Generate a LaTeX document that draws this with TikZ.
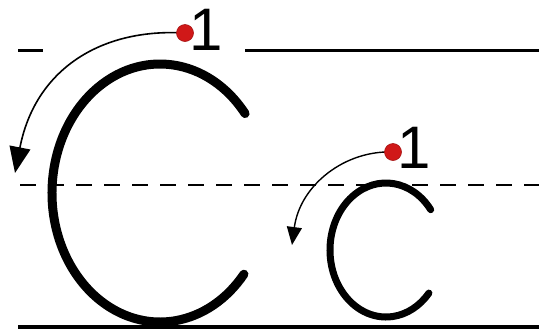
\documentclass[tikz,border=0pt]{standalone}
\usepackage{fontspec}
\setmainfont{Liberation Sans}
\usetikzlibrary{arrows.meta,calc}
\definecolor{dotred}{HTML}{D01818}
\tikzset{
  guide/.style={line width=#1, black},
  letter/.style={line width=#1, black, line cap=round},
  startdot/.style={circle, fill=dotred, draw=dotred!80!black, line width=0.6pt, minimum size=17pt, inner sep=0pt},
  numlabel/.style={anchor=base, inner sep=0pt, font=\fontsize{60}{60}\selectfont},
  strokearrow/.style={line width=1.6pt, black}
}
\begin{document}
\begin{tikzpicture}[x=1pt,y=-1pt]
\useasboundingbox (0,0) rectangle (539,333);
% guide lines
\coordinate (tl1) at (18,50); \coordinate (tl2) at (43,50);
\coordinate (tr1) at (245,50); \coordinate (tr2) at (539,50);
\coordinate (m1) at (20,185); \coordinate (m2) at (539,185);
\coordinate (b1) at (18,327); \coordinate (b2) at (539,327);
\draw[guide=3pt] (tl1) -- (tl2);
\draw[guide=3pt] (tr1) -- (tr2);
\draw[guide=2pt, dash pattern=on 16pt off 12pt] (m1) -- (m2);
\draw[guide=4pt] (b1) -- (b2);
% big C
\coordinate (Cc) at (160,193);
\draw[letter=9pt] ($(Cc)+({108*cos(-38)},{129*sin(-38)})$) arc[start angle=-38, end angle=-321, x radius=108, y radius=129];
% small c
\coordinate (cc) at (386,250);
\draw[letter=7pt] ($(cc)+({56*cos(-37)},{67*sin(-37)})$) arc[start angle=-37, end angle=-320, x radius=56, y radius=67];
% big arrow
\coordinate (s1) at (185,33);
\coordinate (e1) at (15,173);
\draw[strokearrow, -{Triangle[width=21pt,length=26pt]}] (s1) .. controls (100,28) and (35,70) .. (e1);
\node[startdot] (d1) at (s1) {};
\node[numlabel] (n1) at (206.5,50) {1};
% small arrow
\coordinate (s2) at (393,152);
\coordinate (e2) at (292,245);
\draw[strokearrow, line width=1.4pt, -{Triangle[width=15pt,length=18pt]}] (s2) .. controls (345,150) and (300,185) .. (e2);
\node[startdot] (d2) at (s2) {};
\node[numlabel] (n2) at (414.5,168) {1};
\end{tikzpicture}
\end{document}
